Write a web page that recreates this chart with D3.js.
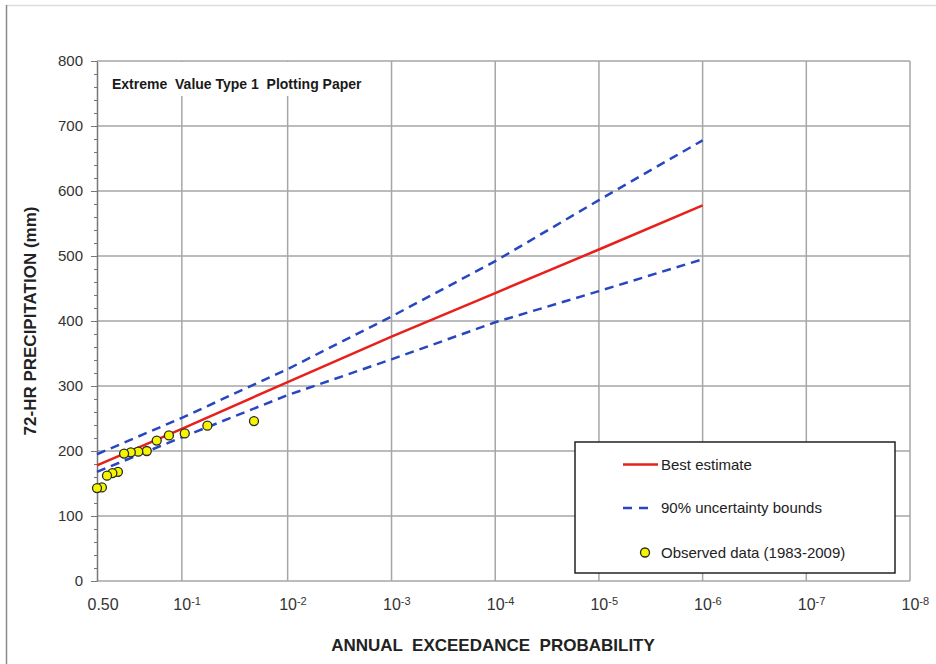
<!DOCTYPE html>
<html>
<head>
<meta charset="utf-8">
<script src="https://cdn.jsdelivr.net/npm/d3@7"></script>
<style>
  html, body { margin: 0; padding: 0; background: #fff; }
  svg { display: block; font-family: "Liberation Sans", Arial, sans-serif; }
</style>
</head>
<body>
<svg id="chart" width="936" height="664"></svg>
<script>
// Exceedance probabilities where the fitted curves are evaluated
const curveProbs = [0.5, 0.1, 0.01, 1e-3, 1e-4, 1e-5, 1e-6];
// 72-hr precipitation (mm) along the fitted Gumbel curve and its 90% bounds
const bestEstimate = [178, 234, 306, 376, 443, 510, 578];
const upperBound   = [195, 251, 326, 407, 492, 586, 678];
const lowerBound   = [168, 221, 286, 341, 398, 446, 495];

// Annual maxima 1983-2009, ranked, with their plotting-position probabilities
const obsProbs  = [0.021, 0.058, 0.094, 0.131, 0.168, 0.205, 0.242,
                   0.279, 0.316, 0.353, 0.389, 0.426, 0.463, 0.500];
const obsValues = [246, 239, 227, 224, 216, 200, 199,
                   198, 196, 168, 166, 162, 144, 143];

// Axis ticks
const probTicks  = [0.5, 1e-1, 1e-2, 1e-3, 1e-4, 1e-5, 1e-6, 1e-7, 1e-8];
const probLabels = [["0.50", ""], ["10", "-1"], ["10", "-2"], ["10", "-3"], ["10", "-4"],
                    ["10", "-5"], ["10", "-6"], ["10", "-7"], ["10", "-8"]];
const valueTicks = [0, 100, 200, 300, 400, 500, 600, 700, 800];

// Gumbel (EV1) reduced variate for an exceedance probability
const gumbel = p => -Math.log(-Math.log1p(-p));

const svg = d3.select("#chart");
const L = 97, R = 910, T = 61, B = 581;
const FONT = "Liberation Sans, Arial, sans-serif";

const x = d3.scaleLinear().domain([gumbel(0.5), gumbel(1e-8)]).range([L, R]);
const y = d3.scaleLinear().domain([0, 800]).range([B, T]);
const gridColor = "#a6a6a6";

// page frame
svg.append("line").attr("x1", 6).attr("x2", 936).attr("y1", 5.5).attr("y2", 5.5)
  .attr("stroke", "#dcdcdc").attr("stroke-width", 1.5);
svg.append("line").attr("x1", 6.5).attr("x2", 6.5).attr("y1", 5).attr("y2", 664)
  .attr("stroke", "#8a8a8a").attr("stroke-width", 1.5);

// horizontal grid
svg.append("g").selectAll("line").data(valueTicks.slice(1)).join("line")
  .attr("x1", L).attr("x2", R).attr("y1", d => y(d)).attr("y2", d => y(d))
  .attr("stroke", gridColor).attr("stroke-width", 1.5);

// vertical grid
svg.append("g").selectAll("line").data(probTicks.slice(1)).join("line")
  .attr("x1", d => x(gumbel(d))).attr("x2", d => x(gumbel(d)))
  .attr("y1", T).attr("y2", B)
  .attr("stroke", gridColor).attr("stroke-width", 1.5);

// bottom edge
svg.append("line").attr("x1", L).attr("x2", R).attr("y1", B).attr("y2", B)
  .attr("stroke", gridColor).attr("stroke-width", 1.5);

// panel title on a white patch
svg.append("rect").attr("x", 99).attr("y", T + 1).attr("width", 272).attr("height", 34).attr("fill", "#fff");
svg.append("text").attr("x", 112).attr("y", 89)
  .attr("font-size", 14).attr("font-weight", "bold").attr("fill", "#1a1a1a")
  .style("white-space", "pre")
  .text("Extreme  Value Type 1  Plotting Paper");

// y axis: minor ticks then major ticks with labels
const yMinor = svg.append("g").attr("transform", `translate(${L},0)`)
  .call(d3.axisLeft(y).tickValues(d3.range(0, 801, 20)).tickSize(3).tickFormat(""));
yMinor.select(".domain").remove();
yMinor.selectAll("line").attr("stroke", "#777");

const yAxis = svg.append("g").attr("transform", `translate(${L},0)`)
  .call(d3.axisLeft(y).tickValues(valueTicks).tickSize(6).tickSizeOuter(0).tickPadding(8));
yAxis.select(".domain").attr("stroke", "#777").attr("stroke-width", 1.5);
yAxis.selectAll("line").attr("stroke", "#777");
yAxis.selectAll("text").attr("font-size", 15).attr("fill", "#333").attr("font-family", FONT);

// x axis labels with superscript exponents
const xAxis = svg.append("g").attr("transform", `translate(0,${B})`)
  .call(d3.axisBottom(x).tickValues(probTicks.map(gumbel)).tickSize(0).tickPadding(0));
xAxis.select(".domain").remove();
xAxis.selectAll("text").each(function (d, i) {
  const t = d3.select(this).text(null)
    .attr("text-anchor", "start").attr("dy", null).attr("y", 29)
    .attr("font-size", 16).attr("fill", "#333").attr("font-family", FONT);
  const [base, exp] = probLabels[i];
  t.attr("x", i === 0 ? -10 : -9);
  t.append("tspan").text(base);
  if (exp) t.append("tspan").attr("dy", -5).attr("font-size", 11).text(exp);
});

// fitted curves
const line = d3.line().x(d => x(gumbel(d[0]))).y(d => y(d[1]));
const pairs = v => curveProbs.map((p, i) => [p, v[i]]);
const blue = "#2846c0";
[upperBound, lowerBound].forEach(v => {
  svg.append("path").datum(pairs(v)).attr("d", line)
    .attr("fill", "none").attr("stroke", blue).attr("stroke-width", 2.5)
    .attr("stroke-dasharray", "9,6");
});
svg.append("path").datum(pairs(bestEstimate)).attr("d", line)
  .attr("fill", "none").attr("stroke", "#e8201c").attr("stroke-width", 2.5);

// observed data
svg.append("g").selectAll("circle").data(obsProbs.map((p, i) => [p, obsValues[i]])).join("circle")
  .attr("cx", d => x(gumbel(d[0]))).attr("cy", d => y(d[1])).attr("r", 4.5)
  .attr("fill", "#f5f500").attr("stroke", "#2a2a2a").attr("stroke-width", 1.3);

// legend
const lg = svg.append("g");
lg.append("rect").attr("x", 575).attr("y", 442).attr("width", 320).attr("height", 131)
  .attr("fill", "#fff").attr("stroke", "#222").attr("stroke-width", 1.5);
lg.append("line").attr("x1", 623).attr("x2", 658).attr("y1", 464.5).attr("y2", 464.5)
  .attr("stroke", "#e8201c").attr("stroke-width", 2.5);
lg.append("line").attr("x1", 623).attr("x2", 653).attr("y1", 508).attr("y2", 508)
  .attr("stroke", blue).attr("stroke-width", 2.5).attr("stroke-dasharray", "9,7");
lg.append("circle").attr("cx", 645).attr("cy", 552.5).attr("r", 4.5)
  .attr("fill", "#f5f500").attr("stroke", "#2a2a2a").attr("stroke-width", 1.3);
const legendText = ["Best estimate", "90% uncertainty bounds", "Observed data (1983-2009)"];
lg.selectAll("text.lt").data(legendText).join("text").attr("class", "lt")
  .attr("x", 661).attr("y", (d, i) => [469.5, 513, 557.5][i])
  .attr("font-size", 15).attr("fill", "#222").text(d => d);

// axis titles
svg.append("text").attr("transform", "translate(36,321) rotate(-90)")
  .attr("text-anchor", "middle").attr("font-size", 17).attr("font-weight", "bold").attr("fill", "#222")
  .text("72-HR PRECIPITATION (mm)");
svg.append("text").attr("x", 493).attr("y", 651)
  .attr("text-anchor", "middle").attr("font-size", 17).attr("font-weight", "bold").attr("fill", "#222")
  .style("white-space", "pre")
  .text("ANNUAL  EXCEEDANCE  PROBABILITY");
</script>
</body>
</html>
